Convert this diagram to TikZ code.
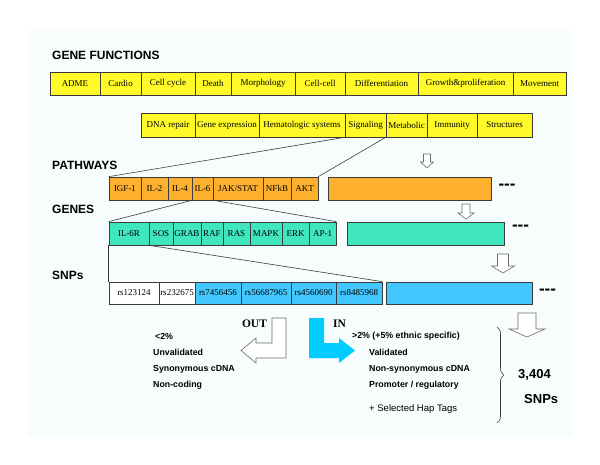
\documentclass[tikz,border=0pt]{standalone}
\usepackage{fontspec}
\setmainfont{Liberation Serif}
\setsansfont{Liberation Sans}
\usetikzlibrary{decorations.pathreplacing}
\definecolor{bgc}{RGB}{247,252,252}
\definecolor{yel}{RGB}{255,250,40}
\definecolor{ora}{RGB}{253,176,46}
\definecolor{tea}{RGB}{64,230,190}
\definecolor{blu}{RGB}{66,200,255}
\definecolor{cya}{RGB}{0,204,255}
\definecolor{edge}{RGB}{60,60,60}
\definecolor{arrg}{RGB}{110,110,110}
\newcommand{\dnarrow}[7]{% name, x, ytop, ybase, ytip, stem half, head half
  \draw[blockarrow] (#2-#6,#3) -- (#2+#6,#3) -- (#2+#6,#4) -- (#2+#7,#4) -- (#2,#5) -- (#2-#7,#4) -- (#2-#6,#4) -- cycle;
  \coordinate (#1) at (#2,#5);}
\begin{document}
\begin{tikzpicture}[x=1pt,y=-1pt,
  cell/.style={draw=edge, line width=0.7pt, inner sep=0pt, font=\fontsize{9}{10}\selectfont},
  yc/.style={cell, fill=yel, minimum height=23pt},
  oc/.style={cell, fill=ora, minimum height=23pt},
  tc/.style={cell, fill=tea, minimum height=23pt},
  wc/.style={cell, fill=white, minimum height=22pt},
  bc/.style={cell, fill=blu, minimum height=22pt},
  heading/.style={anchor=west, inner sep=0pt, font=\sffamily\bfseries\fontsize{12}{14}\selectfont},
  funnel/.style={draw=edge, line width=0.6pt},
  blockarrow/.style={draw=arrg, fill=white, line width=0.6pt},
  dashtxt/.style={inner sep=0pt, font=\sffamily\bfseries\fontsize{17}{17}\selectfont},
  lst/.style={anchor=west, inner sep=0pt, font=\sffamily\bfseries\fontsize{8.8}{10}\selectfont},
  inout/.style={inner sep=0pt, font=\bfseries\fontsize{11.5}{12}\selectfont},
  big/.style={anchor=west, inner sep=0pt, font=\sffamily\bfseries\fontsize{13}{15}\selectfont}
]
\useasboundingbox (0,0) rectangle (600,464);
\fill[white] (0,0) rectangle (600,464);
\fill[bgc] (27,30) rectangle (573,437);

% headings
\node[heading] (hgf) at (52,55) {GENE FUNCTIONS};
\node[heading] (hpw) at (52,165) {PATHWAYS};
\node[heading] (hgn) at (52,209) {GENES};
\node[heading] (hsn) at (52,275) {SNPs};

% gene functions row 1
\node[yc, minimum width=50pt] (adme) at (75,83.5) {ADME};
\node[yc, minimum width=41pt] (cardio) at (120.5,83.5) {Cardio};
\node[yc, minimum width=54pt] (cellcycle) at (168,83.5) {Cell cycle};
\node[yc, minimum width=36pt] (death) at (213,83.5) {Death};
\node[yc, minimum width=64pt] (morph) at (263,83.5) {Morphology};
\node[yc, minimum width=50pt] (cellcell) at (320,83.5) {Cell-cell};
\node[yc, minimum width=73pt] (diff) at (381.5,83.5) {Differentiation};
\node[yc, minimum width=95pt] (growth) at (465.5,83.5) {Growth\&proliferation};
\node[yc, minimum width=53pt] (move) at (539.5,83.5) {Movement};

% gene functions row 2
\node[yc, minimum width=54pt, minimum height=24pt] (dna) at (168,125) {DNA repair};
\node[yc, minimum width=64pt, minimum height=24pt] (gexp) at (227,125) {Gene expression};
\node[yc, minimum width=86pt, minimum height=24pt] (hema) at (302,125) {Hematologic systems};
\node[yc, minimum width=41pt, minimum height=24pt] (sig) at (365.5,125) {Signaling};
\node[yc, minimum width=41pt, minimum height=24pt] (met) at (406.5,125) {Metabolic};
\node[yc, minimum width=50pt, minimum height=24pt] (imm) at (452,125) {Immunity};
\node[yc, minimum width=55pt, minimum height=24pt] (struc) at (504.5,125) {Structures};

% pathways
\node[oc, minimum width=32pt] (igf) at (125,188.5) {IGF-1};
\node[oc, minimum width=27pt] (il2) at (154.5,188.5) {IL-2};
\node[oc, minimum width=24pt] (il4) at (180,188.5) {IL-4};
\node[oc, minimum width=21pt] (il6) at (202.5,188.5) {IL-6};
\node[oc, minimum width=50pt] (jak) at (238,188.5) {JAK/STAT};
\node[oc, minimum width=28pt] (nfkb) at (277,188.5) {NFkB};
\node[oc, minimum width=27pt] (akt) at (304.5,188.5) {AKT};
\node[oc, minimum width=163pt] (pbig) at (409.5,188.5) {};
\node[dashtxt] (d1) at (507,187) {-{}-{}-};

% genes
\node[tc, minimum width=40pt] (il6r) at (129,233.5) {IL-6R};
\node[tc, minimum width=24pt] (sos) at (161,233.5) {SOS};
\node[tc, minimum width=28pt] (grab) at (187,233.5) {GRAB};
\node[tc, minimum width=22pt] (raf) at (212,233.5) {RAF};
\node[tc, minimum width=27pt] (ras) at (236.5,233.5) {RAS};
\node[tc, minimum width=32pt] (mapk) at (266,233.5) {MAPK};
\node[tc, minimum width=27pt] (erk) at (295.5,233.5) {ERK};
\node[tc, minimum width=27pt] (ap1) at (322.5,233.5) {AP-1};
\node[tc, minimum width=157pt] (gbig) at (425.5,233.5) {};
\node[dashtxt] (d2) at (520.5,228) {-{}-{}-};

% SNPs
\node[wc, minimum width=50pt] (rs1) at (134,293) {rs123124};
\node[wc, minimum width=36pt] (rs2) at (177,293) {rs232675};
\node[bc, minimum width=46pt] (rs3) at (218,293) {rs7456456};
\node[bc, minimum width=50pt] (rs4) at (266,293) {rs56687965};
\node[bc, minimum width=45pt] (rs5) at (313.5,293) {rs4560690};
\node[bc, minimum width=46pt] (rs6) at (359,293) {rs8485968};
\node[bc, minimum width=146pt] (sbig) at (459,293) {};
\node[dashtxt] (d3) at (547.5,292) {-{}-{}-};

% funnel lines
\draw[funnel] (sig.south west) -- (igf.north west);
\draw[funnel] (met.south west) -- (akt.north east);
\draw[funnel] (il6.south west) -- (il6r.north west);
\draw[funnel] (il6.south east) -- (ap1.north east);
\draw[funnel] (il6r.south west) -- (rs1.north west);
\draw[funnel] (il6r.south east) -- (rs6.north east);

% down block arrows
\dnarrow{a1}{427}{154}{162}{168}{3.5}{6.5}
\dnarrow{a2}{466}{204}{213}{219}{4}{8}
\dnarrow{a3}{503}{254}{266}{273}{5.5}{11.5}
\dnarrow{a4}{527}{313}{329}{337}{9}{18}

% OUT arrow
\draw[blockarrow] (272,318) -- (286,318) -- (286,358) -- (256,358) -- (256,363) -- (241,350.5) -- (256,338) -- (256,343) -- (272,343) -- cycle;
\node[inout] (out) at (254.5,324) {OUT};
% IN arrow
\fill[cya] (309,318) -- (324,318) -- (324,343) -- (339,343) -- (339,338) -- (355,350.5) -- (339,363) -- (339,358) -- (309,358) -- cycle;
\node[inout] (in) at (339.5,324) {IN};

% lists
\node[lst] (o1) at (155,336) {<2\%};
\node[lst] (o2) at (153,352) {Unvalidated};
\node[lst] (o3) at (153,369) {Synonymous cDNA};
\node[lst] (o4) at (153,385) {Non-coding};

\node[lst] (i1) at (352,336) {>2\% (+5\% ethnic specific)};
\node[lst] (i2) at (369,352) {Validated};
\node[lst] (i3) at (369,369) {Non-synonymous cDNA};
\node[lst] (i4) at (369,385) {Promoter / regulatory};
\node[lst, font=\sffamily\fontsize{9.5}{11}\selectfont] (i5) at (369,409) {+ Selected Hap Tags};

% brace and total
\coordinate (bt) at (497,327);
\coordinate (bb) at (497,423);
\draw[draw=edge, line width=0.6pt, decorate, decoration={brace, amplitude=7pt}] (bt) -- (bb);
\node[big] (n1) at (518,375) {3,404};
\node[big] (n2) at (524,399) {SNPs};
\end{tikzpicture}
\end{document}
